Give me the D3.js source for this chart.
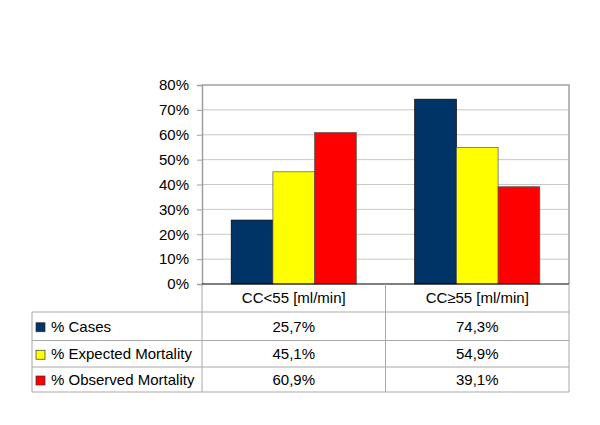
<!DOCTYPE html>
<html><head><meta charset="utf-8">
<script src="https://cdn.jsdelivr.net/npm/d3@7"></script>
<style>body{margin:0;background:#fff}svg{display:block}text{font-family:"Liberation Sans",Arial,sans-serif;fill:#000}</style>
</head><body>
<svg id="c" width="600" height="425"></svg>
<script>
const categories = ["CC<55 [ml/min]", "CC\u226555 [ml/min]"];
const seriesNames = ["% Cases", "% Expected Mortality", "% Observed Mortality"];
const seriesColors = ["#003366", "#ffff00", "#ff0000"];
const cases = [25.7, 74.3];
const expected = [45.1, 54.9];
const observed = [60.9, 39.1];
const yTicks = [0, 10, 20, 30, 40, 50, 60, 70, 80];
const tableLabels = [["25,7%", "74,3%"], ["45,1%", "54,9%"], ["60,9%", "39,1%"]];
const seriesValues = [cases, expected, observed];

const svg = d3.select("#c");
svg.append("rect").attr("width",600).attr("height",425).attr("fill","#fff");
const m = {left:202, top:85, right:31, bottom:141};
const W = 600 - m.left - m.right, H = 425 - m.top - m.bottom;
const g = svg.append("g").attr("transform",`translate(${m.left},${m.top})`);

const x0 = d3.scaleBand().domain(categories).range([0,W]).padding(0);
const x1 = d3.scaleBand().domain(seriesNames).range([0,x0.bandwidth()]).paddingInner(0).paddingOuter(0.7);
const y = d3.scaleLinear().domain([0,80]).range([H,0]);

// grid
g.selectAll(".grid").data(yTicks.slice(1,-1)).enter().append("line")
  .attr("x1",0).attr("x2",W).attr("y1",d=>y(d)).attr("y2",d=>y(d))
  .attr("stroke","#c8c8c8").attr("stroke-width",1);
// border top/right
g.append("path").attr("d",`M0,${y(80)}H${W}V${H}`).attr("fill","none").attr("stroke","#a0a0a0").attr("stroke-width",1.5);

// y axis
const ya = g.append("g").call(d3.axisLeft(y).tickValues(yTicks).tickSize(5).tickPadding(8).tickFormat(d=>d+"%"));
ya.select(".domain").attr("stroke","#a0a0a0").attr("stroke-width",1.5);
ya.selectAll(".tick line").attr("stroke","#a0a0a0");
ya.selectAll("text").attr("font-size","15px").attr("font-family","Liberation Sans, Arial, sans-serif").attr("fill","#000");

// bars
categories.forEach((c,ci)=>{
  seriesNames.forEach((s,si)=>{
    const v = seriesValues[si][ci];
    g.append("rect").attr("x",x0(c)+x1(s)).attr("width",x1.bandwidth())
      .attr("y",y(v)).attr("height",H-y(v)).attr("fill",seriesColors[si])
      .attr("stroke", si===0 ? "#000" : "#555").attr("stroke-width",0.7);
  });
});

// x axis line
g.append("line").attr("x1",0).attr("x2",W).attr("y1",H).attr("y2",H).attr("stroke","#000").attr("stroke-width",1.2);

// table
const tg = svg.append("g");
const tableLeft = 32, tableRight = m.left + W;
const rowTops = [312, 340.5, 367, 392];
const headTop = m.top + H;
const lc = "#a8a8a8";
// header verticals
[0, x0.bandwidth(), W].forEach(xx=>{
  tg.append("line").attr("x1",m.left+xx).attr("x2",m.left+xx).attr("y1",headTop).attr("y2",rowTops[3]).attr("stroke",lc);
});
tg.append("line").attr("x1",tableLeft).attr("x2",tableLeft).attr("y1",rowTops[0]).attr("y2",rowTops[3]).attr("stroke",lc);
rowTops.forEach(ry=>{
  tg.append("line").attr("x1",tableLeft).attr("x2",tableRight).attr("y1",ry).attr("y2",ry).attr("stroke",lc);
});
categories.forEach(c=>{
  tg.append("text").attr("x",m.left+x0(c)+x0.bandwidth()/2).attr("y",headTop+18.5)
    .attr("text-anchor","middle").attr("font-size","15px").text(c);
});
seriesNames.forEach((s,si)=>{
  const cy = (rowTops[si]+rowTops[si+1])/2;
  tg.append("rect").attr("x",36).attr("y",cy-3.5).attr("width",9).attr("height",9)
    .attr("fill",seriesColors[si]).attr("stroke","#333").attr("stroke-width",0.7);
  tg.append("text").attr("x",51).attr("y",cy+5.5).attr("font-size","15px").text(s);
  categories.forEach((c,ci)=>{
    tg.append("text").attr("x",m.left+x0(c)+x0.bandwidth()/2).attr("y",cy+5.5)
      .attr("text-anchor","middle").attr("font-size","15px").text(tableLabels[si][ci]);
  });
});
</script>
</body></html>
